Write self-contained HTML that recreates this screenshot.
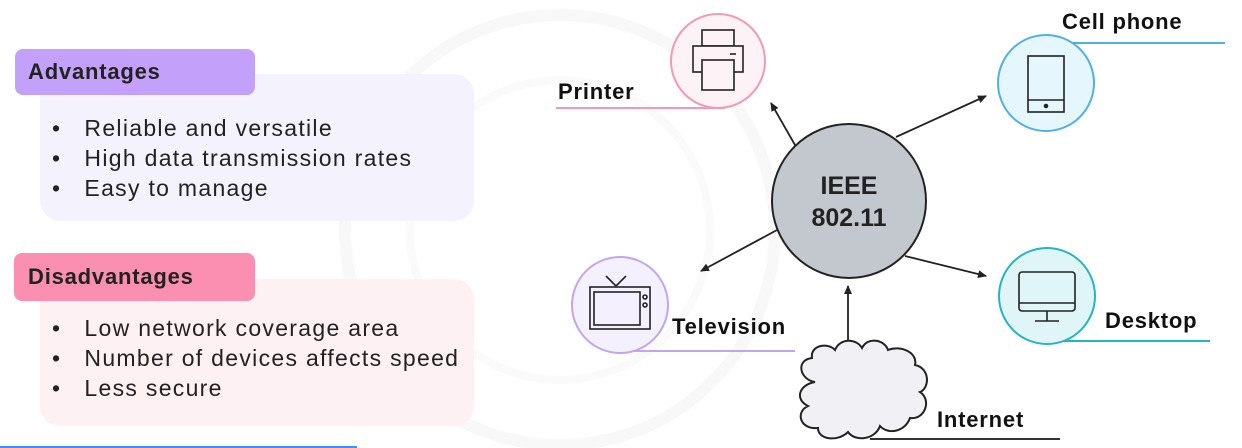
<!DOCTYPE html>
<html><head><meta charset="utf-8"><style>
body{margin:0;width:1242px;height:448px;overflow:hidden;background:#fff;font-family:"Liberation Sans",sans-serif;}
.abs{position:absolute;white-space:nowrap}
.lbl{font-size:22px;font-weight:bold;color:#111;letter-spacing:0.8px}
.lst{font-size:23px;line-height:30px;color:#222;letter-spacing:1.3px}
</style></head><body>
<svg class="abs" style="left:0;top:0" width="1242" height="448" viewBox="0 0 1242 448">
<defs><marker id="a" markerWidth="10" markerHeight="10" refX="8" refY="5" orient="auto" markerUnits="userSpaceOnUse"><path d="M0,1 L9,5 L0,9 Z" fill="#222"/></marker></defs>
<circle cx="560" cy="230" r="215" fill="none" stroke="#f8f8f8" stroke-width="12"/>
<circle cx="560" cy="230" r="150" fill="none" stroke="#fafafa" stroke-width="8"/>
<rect x="40" y="74" width="434" height="147" rx="20" fill="#f4f2fd"/>
<rect x="15" y="49" width="240" height="46" rx="8" fill="#c3a1fa"/>
<rect x="40" y="279" width="434" height="147" rx="20" fill="#fdf1f4"/>
<rect x="14" y="253" width="241" height="48" rx="8" fill="#fa8fb1"/>
<rect x="0" y="446" width="357" height="2" fill="#4a8df0"/>
<line x1="556" y1="108" x2="725" y2="108" stroke="#f09ab5" stroke-width="2"/>
<line x1="1040" y1="43" x2="1225" y2="43" stroke="#4fb0e8" stroke-width="2"/>
<line x1="630" y1="351" x2="795" y2="351" stroke="#c0a5f0" stroke-width="2"/>
<line x1="1050" y1="341" x2="1210" y2="341" stroke="#26b5c0" stroke-width="2"/>
<line x1="870" y1="439" x2="1060" y2="439" stroke="#333" stroke-width="2"/>
<circle cx="718" cy="61" r="47" fill="#fdf2f6" stroke="#f09ab5" stroke-width="2"/>
<circle cx="1046" cy="83" r="48" fill="#e6f6fd" stroke="#4fb0e8" stroke-width="2"/>
<circle cx="620" cy="305" r="48" fill="#f5f0fd" stroke="#c0a5f0" stroke-width="2"/>
<circle cx="1047" cy="296" r="48" fill="#dff5f7" stroke="#26b5c0" stroke-width="2"/>
<g fill="#fdf2f6" stroke="#222" stroke-width="1.6">
<rect x="702" y="30" width="32" height="16"/>
<rect x="693" y="46" width="50" height="26"/>
<line x1="730" y1="54" x2="736" y2="54"/>
<rect x="702" y="60" width="32" height="30"/>
</g>
<g fill="none" stroke="#222" stroke-width="1.6">
<rect x="1028" y="56" width="36" height="56"/>
<line x1="1028" y1="100" x2="1064" y2="100"/>
<circle cx="1046" cy="106" r="1.5" fill="#222"/>
</g>
<g fill="none" stroke="#222" stroke-width="1.6">
<rect x="590" y="287" width="60" height="42"/>
<rect x="594" y="292" width="46" height="33"/>
<line x1="606" y1="276" x2="616" y2="286"/><line x1="626" y1="276" x2="616" y2="286"/>
<circle cx="645" cy="297" r="2"/><circle cx="645" cy="305" r="2"/>
</g>
<g fill="none" stroke="#222" stroke-width="1.6">
<rect x="1019" y="272" width="56" height="39" rx="3"/>
<line x1="1019" y1="303" x2="1075" y2="303"/>
<line x1="1047" y1="311" x2="1047" y2="321"/>
<line x1="1035" y1="321" x2="1059" y2="321"/>
</g>
<g stroke="#222" stroke-width="1.8" marker-end="url(#a)">
<line x1="795" y1="145" x2="771" y2="103"/>
<line x1="896" y1="137" x2="986" y2="96"/>
<line x1="777" y1="230" x2="701" y2="271"/>
<line x1="905" y1="256" x2="986" y2="276"/>
<line x1="848" y1="345" x2="848" y2="286"/>
</g>
<circle cx="849" cy="201" r="77" fill="#c3c7ce" stroke="#222" stroke-width="2"/>
<path d="M815,382 C800,380 795,360 812,358 C810,345 828,342 835,350 C840,338 856,338 862,348 C868,336 885,340 888,350 C900,345 918,352 915,365 C930,368 930,388 920,392 C932,400 925,420 910,418 C905,432 888,435 880,426 C875,440 855,442 848,432 C838,442 818,440 818,428 C800,430 795,412 808,406 C795,400 798,385 815,382 Z" fill="#f1f1f5" stroke="#222" stroke-width="2"/>
</svg>
<div class="abs lbl" style="left:28px;top:59px;color:#222">Advantages</div>
<div class="abs lbl" style="left:28px;top:264px;color:#222">Disadvantages</div>
<div class="abs lst" style="left:52px;top:113px">
<div>•&nbsp;&nbsp;&nbsp;Reliable and versatile</div><div>•&nbsp;&nbsp;&nbsp;High data transmission rates</div><div>•&nbsp;&nbsp;&nbsp;Easy to manage</div></div>
<div class="abs lst" style="left:52px;top:313px">
<div>•&nbsp;&nbsp;&nbsp;Low network coverage area</div><div>•&nbsp;&nbsp;&nbsp;Number of devices affects speed</div><div>•&nbsp;&nbsp;&nbsp;Less secure</div></div>
<div class="abs lbl" style="left:558px;top:79px">Printer</div>
<div class="abs lbl" style="left:1062px;top:9px">Cell phone</div>
<div class="abs lbl" style="left:672px;top:314px">Television</div>
<div class="abs lbl" style="left:1105px;top:308px">Desktop</div>
<div class="abs lbl" style="left:937px;top:407px">Internet</div>
<div class="abs" style="left:772px;top:170px;width:154px;text-align:center;font-size:25px;line-height:32px;font-weight:bold;color:#222">IEEE<br>802.11</div>
</body></html>
